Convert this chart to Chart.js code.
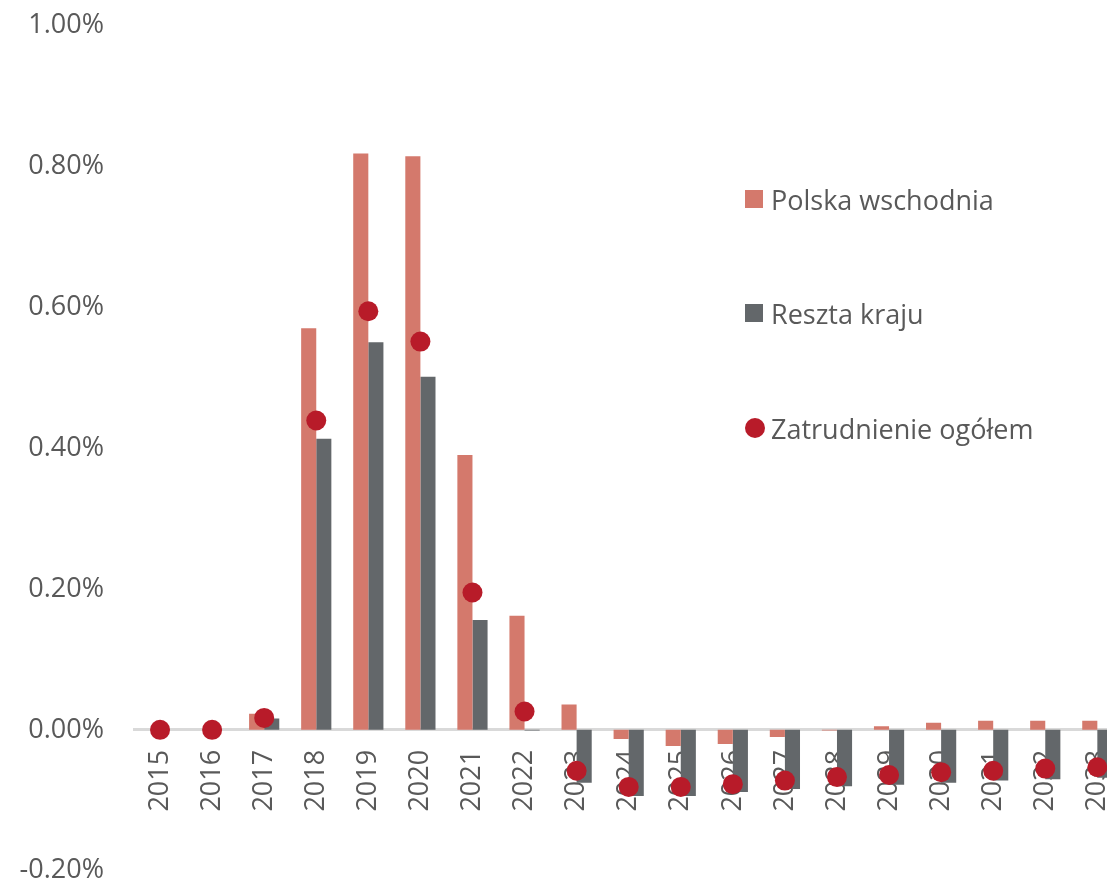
<!DOCTYPE html>
<html>
<head>
<meta charset="utf-8">
<script src="https://cdn.jsdelivr.net/npm/chart.js@4"></script>
<style>
  html, body { margin: 0; padding: 0; background: #fff; overflow: hidden; }
  #wrap { position: relative; width: 1150px; height: 938px; margin-top: -21px; }
  #legend { position: absolute; left: 745px; top: 21px; font-family: 'Open Sans', sans-serif;
    font-size: 27px; color: #595959; }
  .item { position: absolute; left: 0; white-space: nowrap; display: flex; align-items: center; }
  .sw { width: 18px; height: 18px; margin-right: 8px; flex: none; }
  .dot { width: 20px; height: 20px; border-radius: 50%; margin-right: 6px; flex: none; }
</style>
</head>
<body>
<div id="wrap">
  <canvas id="chart"></canvas>
  <div id="legend"></div>
</div>
<script>
// dane (w %)
const years = ['2015','2016','2017','2018','2019','2020','2021','2022','2023','2024',
               '2025','2026','2027','2028','2029','2030','2031','2032','2033'];
const polskaWschodnia = [0, 0, 0.023, 0.57, 0.818, 0.814, 0.39, 0.162, 0.036, -0.013,
                         -0.023, -0.02, -0.01, -0.001, 0.005, 0.01, 0.013, 0.013, 0.013];
const resztaKraju = [0, 0, 0.016, 0.413, 0.55, 0.501, 0.156, -0.001, -0.075, -0.094,
                     -0.094, -0.088, -0.084, -0.08, -0.078, -0.075, -0.072, -0.07, -0.068];
const zatrudnienie = [0, 0, 0.017, 0.439, 0.594, 0.551, 0.195, 0.026, -0.058, -0.081,
                      -0.081, -0.077, -0.072, -0.067, -0.064, -0.06, -0.058, -0.055, -0.053];
const yTicks = [-0.2, 0, 0.2, 0.4, 0.6, 0.8, 1.0];

const PINK = '#D4796C', GRAY = '#63676A', RED = '#B81B29', TXT = '#595959';
const FONT = "'Open Sans', sans-serif";

const ctx = document.getElementById('chart').getContext('2d');
new Chart(ctx, {
  type: 'bar',
  data: {
    labels: years,
    datasets: [
      { type: 'line', label: 'Zatrudnienie ogółem', data: zatrudnienie, order: 0,
        showLine: false, pointRadius: 10, pointHoverRadius: 10,
        pointBackgroundColor: RED, pointBorderWidth: 0, borderColor: RED },
      { label: 'Polska wschodnia', data: polskaWschodnia, backgroundColor: PINK, order: 1,
        categoryPercentage: 0.58, barPercentage: 1 },
      { label: 'Reszta kraju', data: resztaKraju, backgroundColor: GRAY, order: 1,
        categoryPercentage: 0.58, barPercentage: 1 },
    ],
  },
  options: {
    responsive: true,
    maintainAspectRatio: false,
    animation: false,
    layout: { padding: 0 },
    plugins: { legend: { display: false }, tooltip: { enabled: false } },
    scales: {
      x: {
        position: { y: 0 },
        z: 1,
        grid: { display: false, drawTicks: false },
        border: { display: true, color: '#D9D9D9', width: 3 },
        ticks: { color: TXT, font: { family: FONT, size: 27 }, padding: 20,
                 minRotation: 90, maxRotation: 90, autoSkip: false },
      },
      y: {
        min: -0.2, max: 1.0,
        afterBuildTicks: s => { s.ticks = yTicks.map(v => ({ value: v })); },
        afterFit: s => { s.width = 134; },
        grid: { display: false, drawTicks: false },
        border: { display: false },
        ticks: { color: TXT, font: { family: FONT, size: 27 }, padding: 30,
                 callback: v => v.toFixed(2) + '%' },
      },
    },
  },
});

// legenda
const legendItems = [
  { text: 'Polska wschodnia', color: PINK, cls: 'sw', y: 199 },
  { text: 'Reszta kraju', color: GRAY, cls: 'sw', y: 313 },
  { text: 'Zatrudnienie ogółem', color: RED, cls: 'dot', y: 428 },
];
const lg = document.getElementById('legend');
legendItems.forEach(it => {
  const d = document.createElement('div');
  d.className = 'item';
  d.style.top = (it.y - 20) + 'px';
  d.style.height = '40px';
  d.innerHTML = `<span class="${it.cls}" style="background:${it.color}"></span><span>${it.text}</span>`;
  lg.appendChild(d);
});
</script>
</body>
</html>
